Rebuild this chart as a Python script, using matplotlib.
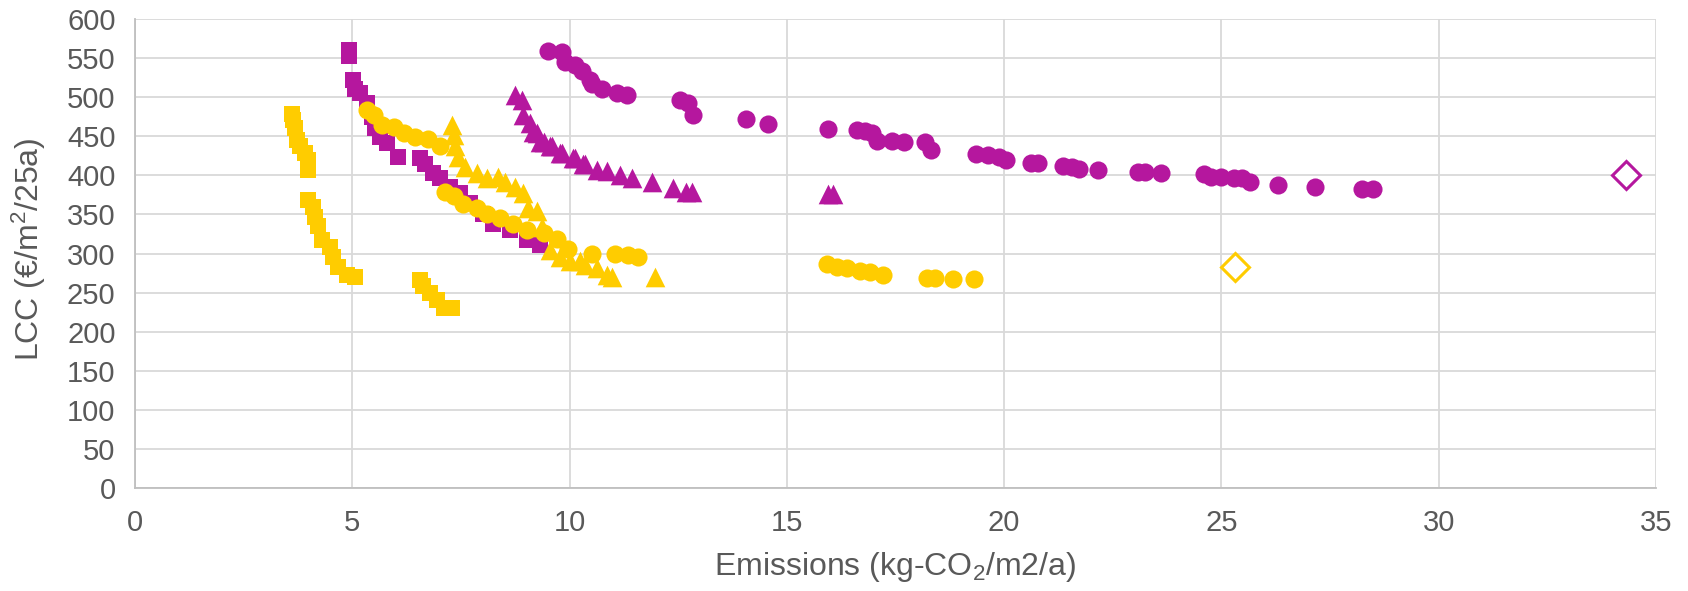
import matplotlib.pyplot as plt

plt.rcParams['font.family'] = ['Liberation Sans', 'DejaVu Sans']
plt.rcParams['mathtext.fontset'] = 'custom'
plt.rcParams['mathtext.rm'] = 'Liberation Sans'
plt.rcParams['mathtext.it'] = 'Liberation Sans:italic'

PURPLE = '#B5179E'
YELLOW = '#FFCC00'

# purple circles
pc_x = [9.51, 9.82, 9.89, 10.12, 10.28, 10.47, 10.51, 10.74, 11.08, 11.31, 12.54, 12.73, 12.83,
        14.07, 14.57, 15.94, 16.61, 16.80, 16.95, 17.07, 17.41, 17.69, 18.18, 18.31, 19.35, 19.62,
        19.89, 20.05, 20.61, 20.79, 21.35, 21.57, 21.73, 22.17, 23.08, 23.25, 23.62, 24.60, 24.76,
        24.98, 25.30, 25.47, 25.66, 26.31, 27.15, 28.23, 28.50]
pc_y = [559, 558, 545, 541, 534, 522, 517, 510, 505, 503, 496, 492, 477,
        472, 466, 459, 458, 457, 454, 444, 444, 443, 442, 433, 427, 426,
        424, 420, 416, 416, 412, 411, 408, 407, 404, 404, 403, 402, 398,
        398, 396, 396, 392, 388, 385, 383, 382]

# purple triangles
pt_x = [8.74, 8.90, 8.93, 9.09, 9.16, 9.24, 9.32, 9.40, 9.55, 9.59, 9.78, 9.82, 10.09, 10.12,
        10.32, 10.35, 10.62, 10.85, 11.16, 11.43, 11.89, 12.39, 12.69, 12.81, 15.95, 16.07]
pt_y = [503, 496, 477, 467, 456, 454, 443, 443, 437, 437, 428, 428, 422, 422,
        415, 415, 407, 406, 400, 397, 391, 384, 379, 379, 376, 376]

# purple squares
ps_x = [4.93, 4.93, 5.02, 5.06, 5.18, 5.33, 5.45, 5.52, 5.64, 5.79, 6.06, 6.56, 6.67, 6.86,
        7.02, 7.25, 7.48, 7.71, 8.01, 8.24, 8.63, 9.01, 9.32]
ps_y = [560, 552, 522, 511, 505, 492, 475, 460, 449, 441, 424, 422, 415, 403,
        397, 385, 377, 364, 351, 338, 330, 317, 311]

# yellow circles
yc_x = [5.33, 5.49, 5.68, 5.95, 6.18, 6.44, 6.75, 7.02, 7.13, 7.33, 7.55, 7.86, 8.09, 8.40,
        8.70, 9.01, 9.40, 9.72, 9.97, 10.51, 11.04, 11.35, 11.58, 15.92, 16.15, 16.38, 16.68,
        16.91, 17.22, 18.22, 18.41, 18.83, 19.31]
yc_y = [484, 477, 464, 462, 454, 449, 446, 437, 379, 374, 363, 358, 351, 345,
        338, 330, 326, 319, 306, 300, 299, 298, 296, 287, 283, 281, 278,
        276, 272, 269, 269, 268, 267]

# yellow triangles
yt_x = [7.29, 7.33, 7.36, 7.44, 7.59, 7.86, 8.09, 8.36, 8.51, 8.74, 8.93, 9.05, 9.24, 9.36,
        9.55, 9.78, 10.01, 10.24, 10.35, 10.62, 10.85, 10.97, 11.97]
yt_y = [464, 452, 437, 424, 411, 403, 396, 398, 392, 385, 377, 358, 354, 334,
        304, 296, 290, 290, 285, 281, 272, 270, 270]

# yellow squares
ys_x = [3.61, 3.64, 3.68, 3.72, 3.80, 3.91, 3.99, 3.99, 3.99, 4.10, 4.14, 4.22, 4.30, 4.49,
        4.56, 4.68, 4.87, 5.06, 6.56, 6.63, 6.79, 6.94, 7.10, 7.29]
ys_y = [479, 471, 460, 445, 437, 428, 420, 407, 368, 360, 347, 335, 317, 309,
        296, 283, 272, 270, 266, 258, 249, 240, 230, 230]

# reference points (open diamonds)
ref_x = [34.32, 25.31]
ref_y = [400, 283]
ref_c = [PURPLE, YELLOW]

fig = plt.figure(figsize=(16.88, 5.91), dpi=100)
ax = fig.add_axes([0.080, 0.174, 0.901, 0.794])

ax.scatter(pt_x, pt_y, marker='^', s=200, color=PURPLE, linewidths=0, zorder=3)
ax.scatter(ps_x, ps_y, marker='s', s=130, color=PURPLE, linewidths=0, zorder=3)
ax.scatter(pc_x, pc_y, marker='o', s=170, color=PURPLE, linewidths=0, zorder=3)
ax.scatter(ys_x, ys_y, marker='s', s=130, color=YELLOW, linewidths=0, zorder=4)
ax.scatter(yt_x, yt_y, marker='^', s=200, color=YELLOW, linewidths=0, zorder=4)
ax.scatter(yc_x, yc_y, marker='o', s=170, color=YELLOW, linewidths=0, zorder=4)
for x, y, c in zip(ref_x, ref_y, ref_c):
    ax.plot(x, y, marker='D', ms=14, mfc='white', mec=c, mew=2.2, zorder=5)

ax.set_xlim(0, 35)
ax.set_ylim(0, 600)
ax.set_xticks(range(0, 36, 5))
ax.set_yticks(range(0, 601, 50))
ax.grid(True, color='#D9D9D9', linewidth=1.3, zorder=0)
ax.set_axisbelow(True)
for s in ['top', 'right']:
    ax.spines[s].set_visible(False)
for s in ['left', 'bottom']:
    ax.spines[s].set_color('#BFBFBF')
    ax.spines[s].set_linewidth(1.3)
ax.tick_params(length=0, labelsize=21, labelcolor='#595959')
ax.tick_params(axis='y', pad=14)
ax.tick_params(axis='x', pad=15)

ax.set_xlabel('Emissions (kg-CO$_2$/m2/a)', fontsize=23, color='#595959')
ax.set_ylabel('LCC (€/m$^2$/25a)', fontsize=23, color='#595959')
ax.xaxis.set_label_coords(0.5, -0.132)
ax.yaxis.set_label_coords(-0.057, 0.51)

fig.savefig('out.png', dpi=100)
